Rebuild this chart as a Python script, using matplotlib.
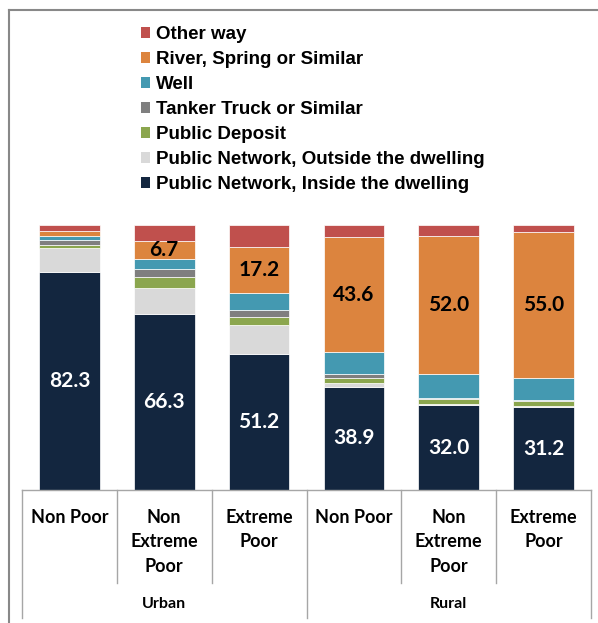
import numpy as np
import matplotlib.pyplot as plt
from matplotlib.lines import Line2D
from matplotlib.patches import Patch

groups = ["Urban", "Rural"]
categories = ["Non Poor", "Non\nExtreme\nPoor", "Extreme\nPoor",
              "Non Poor", "Non\nExtreme\nPoor", "Extreme\nPoor"]

# shares of households by main water source (%), bottom to top
inside = [82.3, 66.3, 51.2, 38.9, 32.0, 31.2]
outside = [9.1, 10.0, 11.0, 1.6, 0.5, 0.4]
deposit = [1.0, 4.0, 3.0, 1.7, 2.0, 1.8]
tanker = [2.0, 3.1, 2.8, 1.5, 0.2, 0.5]
well = [1.5, 3.8, 6.4, 8.2, 9.1, 8.3]
river = [2.0, 6.7, 17.2, 43.6, 52.0, 55.0]
other = [2.1, 6.1, 8.4, 4.5, 4.2, 2.8]

series = [
    ("Public Network, Inside the dwelling", inside, "#13263f"),
    ("Public Network, Outside the dwelling", outside, "#d9d9d9"),
    ("Public Deposit", deposit, "#8ba64e"),
    ("Tanker Truck or Similar", tanker, "#7f7f7f"),
    ("Well", well, "#4499b1"),
    ("River, Spring or Similar", river, "#dc843e"),
    ("Other way", other, "#c0504d"),
]

fig = plt.figure(figsize=(5.98, 6.23), dpi=100)
ax = fig.add_axes([22 / 598, 1 - 490 / 623, 569 / 598, 265 / 623])

x = np.arange(len(categories))
bottom = np.zeros(len(categories))
containers = {}
for name, vals, color in series:
    c = ax.bar(x, vals, width=0.64, bottom=bottom, color=color,
               edgecolor="white", linewidth=0.5)
    containers[name] = c
    bottom += np.array(vals)

lab_font = dict(family="Lato", weight="bold", size=15)
ax.bar_label(containers["Public Network, Inside the dwelling"],
             labels=[f"{v:.1f}" for v in inside], label_type="center",
             color="white", **lab_font)
ax.bar_label(containers["River, Spring or Similar"],
             labels=[""] + [f"{v:.1f}" for v in river[1:]], label_type="center",
             color="black", **lab_font)

ax.set_xlim(-0.5, len(categories) - 0.5)
ax.set_ylim(0, 100)
ax.axis("off")

# two-level category axis drawn as a table under the bars
tr = ax.get_xaxis_transform()
line_kw = dict(color="#a6a6a6", linewidth=1.0, clip_on=False, transform=tr)
ax.plot([-0.5, 5.5], [0, 0], **line_kw)
for b in np.arange(-0.5, 6.0, 1.0):
    outer = b in (-0.5, 2.5, 5.5)
    ax.plot([b, b], [0, -0.483 if outer else -0.351], **line_kw)

for xi, label in zip(x, categories):
    ax.text(xi, -0.072, label, transform=tr, ha="center", va="top",
            family="Lato", weight="bold", size=13, linespacing=1.52)
for gi, g in enumerate(groups):
    ax.text(gi * 3 + 1, -0.43, g, transform=tr, ha="center", va="center",
            family="Lato", weight="bold", size=11.5)

handles = [Patch(facecolor=c, edgecolor="none") for _, _, c in series][::-1]
names = [n for n, _, _ in series][::-1]
fig.legend(handles, names, loc="upper left", bbox_to_anchor=(141 / 598, 1 - 26 / 623),
           frameon=False, borderpad=0, borderaxespad=0, handlelength=0.5,
           handleheight=0.5, handletextpad=0.3, labelspacing=0.43,
           prop=dict(family="Liberation Sans", weight="bold", size=13.5))

# outer frame: top and left edges only
frame_kw = dict(color="#888888", linewidth=1.5)
fig.add_artist(Line2D([9 / 598, 1.0], [1 - 10 / 623] * 2, **frame_kw))
fig.add_artist(Line2D([9 / 598] * 2, [1 - 10 / 623, 0.0], **frame_kw))

fig.savefig("out.png", dpi=100)
